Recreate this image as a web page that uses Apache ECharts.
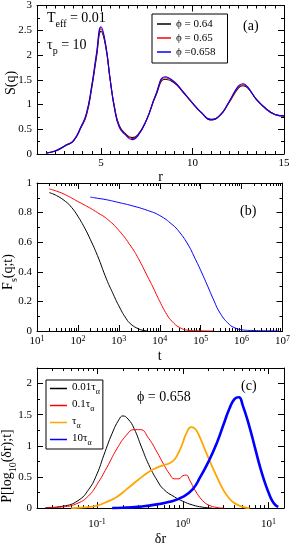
<!DOCTYPE html>
<html><head><meta charset="utf-8">
<script src="https://cdn.jsdelivr.net/npm/echarts@6/dist/echarts.min.js"></script>
<style>html,body{margin:0;padding:0;background:#fff}#c{width:293px;height:547px}</style>
</head><body><div id="c"></div>
<script>
// ---------- Panel (a): S(q) ----------
const rA = [2.0, 2.5, 3.1, 3.5, 3.9, 4.2, 4.5, 4.75, 5.0, 5.25, 5.5, 5.75, 6.0, 6.3, 6.7, 7.0, 7.5, 8.0, 8.5, 9.0, 9.5, 10.0, 10.5, 11.0, 11.5, 12.0, 12.5, 12.75, 13.0, 13.5, 14.0, 14.5, 15.0];
const sA_064 = [0.02, 0.06, 0.18, 0.27, 0.53, 0.78, 1.35, 1.95, 2.48, 2.18, 1.5, 0.92, 0.57, 0.42, 0.33, 0.38, 0.7, 1.18, 1.51, 1.44, 1.24, 1.03, 0.83, 0.7, 0.78, 1.04, 1.33, 1.38, 1.34, 1.1, 0.92, 0.8, 0.77];
const sA_065 = [0.02, 0.06, 0.18, 0.27, 0.54, 0.8, 1.38, 2.0, 2.53, 2.2, 1.5, 0.9, 0.55, 0.41, 0.31, 0.37, 0.7, 1.2, 1.54, 1.45, 1.25, 1.03, 0.83, 0.69, 0.78, 1.05, 1.35, 1.40, 1.35, 1.1, 0.92, 0.8, 0.77];
const sA_0658 = [0.02, 0.06, 0.18, 0.27, 0.55, 0.82, 1.4, 2.03, 2.57, 2.22, 1.5, 0.89, 0.54, 0.4, 0.29, 0.36, 0.7, 1.21, 1.56, 1.46, 1.25, 1.03, 0.83, 0.69, 0.78, 1.06, 1.37, 1.42, 1.36, 1.1, 0.92, 0.8, 0.77];
const legendA = ['ϕ = 0.64', 'ϕ = 0.65', 'ϕ =0.658'];
const xTicksA = [5, 10, 15];
const xMinorA = [2, 2.5, 3, 3.5, 4, 4.5, 5.5, 6, 6.5, 7, 7.5, 8, 8.5, 9, 9.5, 10.5, 11, 11.5, 12, 12.5, 13, 13.5, 14, 14.5];
const yTicksA = [0, 0.5, 1, 1.5, 2, 2.5, 3];
const yMinorA = [0.25, 0.75, 1.25, 1.75, 2.25, 2.75];

// ---------- Panel (b): Fs(q;t) ----------
const tB_064 = [20, 30, 50, 70, 100, 150, 200, 300, 500, 700, 1000, 1500, 2000, 3000, 4000, 5000];
const fB_064 = [0.935, 0.915, 0.875, 0.835, 0.775, 0.69, 0.62, 0.51, 0.35, 0.26, 0.17, 0.085, 0.045, 0.015, 0.004, 0.0];
const tB_065 = [20, 30, 50, 100, 200, 300, 500, 1000, 2000, 3000, 5000, 7000, 10000, 15000, 20000, 30000, 50000, 100000, 200000];
const fB_065 = [0.96, 0.945, 0.92, 0.875, 0.83, 0.8, 0.76, 0.68, 0.57, 0.49, 0.37, 0.29, 0.2, 0.11, 0.065, 0.025, 0.005, 0.001, 0.0];
const tB_0658 = [200, 300, 500, 1000, 2000, 5000, 10000, 20000, 30000, 50000, 70000, 100000, 150000, 200000, 300000, 500000, 700000, 1000000, 2000000, 5000000, 8000000];
const fB_0658 = [0.905, 0.897, 0.887, 0.868, 0.848, 0.815, 0.78, 0.72, 0.67, 0.58, 0.5, 0.41, 0.3, 0.22, 0.12, 0.045, 0.02, 0.008, 0.003, 0.001, 0.0];
const xDecB = [1, 2, 3, 4, 5, 6, 7];
const yTicksB = [0, 0.2, 0.4, 0.6, 0.8, 1];
const yMinorB = [0.1, 0.3, 0.5, 0.7, 0.9];

// ---------- Panel (c): P[log10(dr);t] ----------
const drC_001 = [0.025, 0.04, 0.06, 0.08, 0.1, 0.12, 0.15, 0.18, 0.2, 0.23, 0.27, 0.33, 0.4, 0.5, 0.6, 0.8, 1.0, 1.3, 1.7, 2.2];
const pC_001 = [0.005, 0.03, 0.12, 0.3, 0.55, 0.85, 1.2, 1.42, 1.48, 1.43, 1.28, 0.98, 0.7, 0.45, 0.3, 0.18, 0.11, 0.05, 0.015, 0.0];
const drC_01 = [0.025, 0.04, 0.06, 0.08, 0.1, 0.13, 0.17, 0.22, 0.27, 0.32, 0.4, 0.5, 0.6, 0.7, 0.8, 0.9, 1.0, 1.1, 1.2, 1.4, 1.7, 2.0, 2.5, 3.0];
const pC_01 = [0.005, 0.02, 0.08, 0.2, 0.38, 0.65, 0.95, 1.17, 1.26, 1.26, 1.12, 0.9, 0.7, 0.55, 0.47, 0.47, 0.52, 0.53, 0.45, 0.28, 0.12, 0.05, 0.01, 0.0];
const drC_1 = [0.05, 0.07, 0.1, 0.13, 0.17, 0.22, 0.3, 0.4, 0.5, 0.6, 0.7, 0.8, 0.9, 1.0, 1.1, 1.25, 1.4, 1.6, 1.8, 2.0, 2.5, 3.0, 3.5, 4.0, 5.0, 6.0];
const pC_1 = [0.0, 0.01, 0.04, 0.1, 0.18, 0.3, 0.45, 0.58, 0.65, 0.69, 0.72, 0.78, 0.9, 1.05, 1.2, 1.3, 1.27, 1.12, 0.95, 0.8, 0.5, 0.28, 0.15, 0.08, 0.02, 0.0];
const drC_10 = [0.15, 0.2, 0.3, 0.4, 0.5, 0.7, 1.0, 1.3, 1.6, 2.0, 2.5, 3.0, 3.5, 4.0, 4.5, 5.0, 6.0, 7.0, 8.0, 9.0, 10.0, 11.0, 12.0, 13.0];
const pC_10 = [0.0, 0.005, 0.02, 0.04, 0.06, 0.1, 0.18, 0.3, 0.5, 0.75, 1.05, 1.35, 1.6, 1.75, 1.78, 1.65, 1.3, 0.95, 0.65, 0.42, 0.25, 0.12, 0.05, 0.02];
const legendC = ['0.01τα', '0.1τα', 'τα', '10τα'];
const xDecC = [-1, 0, 1];
const xMinorC = [0.02, 0.03, 0.04, 0.05, 0.06, 0.07, 0.08, 0.09, 0.2, 0.3, 0.4, 0.5, 0.6, 0.7, 0.8, 0.9, 2, 3, 4, 5, 6, 7, 8, 9];
const yTicksC = [0, 0.5, 1, 1.5, 2];
const yMinorC = [0.25, 0.75, 1.25, 1.75];

// ---------- helpers ----------
const FF = 'Liberation Serif';
const L10 = Math.log10;
const decMinors = (lo, hi) => { const o = []; for (let d = lo; d < hi; d++) for (let k = 2; k <= 9; k++) o.push(d + L10(k)); return o; };
const xMinorB = decMinors(1, 7);

function ax(g, pos, min, max, ticks, len, labels, fmt, line, extra) {
  return {
    type: 'value', gridIndex: g, position: pos, min: min, max: max,
    axisLine: { show: line, onZero: false, lineStyle: { color: '#000', width: 1 } },
    axisTick: { show: true, inside: true, length: len, customValues: ticks, lineStyle: { color: '#000', width: 1 } },
    axisLabel: labels ? Object.assign({ show: true, customValues: labels, formatter: fmt, color: '#000', fontFamily: FF, fontSize: 11 }, extra || {}) : { show: false },
    splitLine: { show: false }, minorTick: { show: false }, silent: true
  };
}
function axesSet(g, isX, min, max, majors, minors, fmt, extra) {
  const p1 = isX ? 'bottom' : 'left', p2 = isX ? 'top' : 'right';
  return [
    ax(g, p1, min, max, majors, 6, majors, fmt, true, extra),
    ax(g, p1, min, max, minors, 3, null, null, false),
    ax(g, p2, min, max, majors, 6, null, null, true),
    ax(g, p2, min, max, minors, 3, null, null, false)
  ];
}
const numFmt = v => String(v);
const supRich = {
  b: { fontFamily: FF, fontSize: 11, lineHeight: 12, verticalAlign: 'bottom', color: '#000' },
  sup: { fontFamily: FF, fontSize: 8, lineHeight: 9, padding: [0, 0, 5, 0], verticalAlign: 'top', color: '#000' }
};
const decFmt = v => '{b|10}{sup|' + String(Math.round(v)) + '}';

const xAxes = [].concat(
  axesSet(0, true, 1.5, 15, xTicksA, xMinorA, numFmt, { margin: 4 }),
  axesSet(1, true, 1, 7, xDecB, xMinorB, decFmt, { margin: 4, rich: supRich }),
  axesSet(2, true, -1.7, 1.18, xDecC, xMinorC.map(L10), decFmt, { margin: 10, rich: supRich })
);
xAxes[0].name = 'r'; xAxes[0].nameLocation = 'middle'; xAxes[0].nameGap = 12;
xAxes[4].name = 't'; xAxes[4].nameLocation = 'middle'; xAxes[4].nameGap = 15;
xAxes[8].name = 'δr'; xAxes[8].nameLocation = 'middle'; xAxes[8].nameGap = 23;
[0, 4, 8].forEach(i => xAxes[i].nameTextStyle = { fontFamily: FF, fontSize: 14, color: '#000' });

const yAxes = [].concat(
  axesSet(0, false, 0, 3, yTicksA, yMinorA, numFmt, { margin: 5 }),
  axesSet(1, false, 0, 1, yTicksB, yMinorB, numFmt, { margin: 5 }),
  axesSet(2, false, 0, 2.25, yTicksC, yMinorC, numFmt, { margin: 5 })
);

function line(name, xi, xs, ys, color, w, tf) {
  return {
    type: 'line', name: name, xAxisIndex: xi, yAxisIndex: xi,
    data: xs.map((x, i) => [tf ? tf(x) : x, ys[i]]),
    symbol: 'none', showSymbol: false, smooth: 0.5,
    lineStyle: { color: color, width: w }, itemStyle: { color: color }, silent: true, z: 3
  };
}

const series = [
  line(legendA[0], 0, rA, sA_064, '#000000', 1.1),
  line(legendA[1], 0, rA, sA_065, '#ff0000', 1.1),
  line(legendA[2], 0, rA, sA_0658, '#0000ff', 1.1),
  line('b ' + legendA[0], 4, tB_064, fB_064, '#000000', 1, L10),
  line('b ' + legendA[1], 4, tB_065, fB_065, '#ff0000', 1, L10),
  line('b ' + legendA[2], 4, tB_0658, fB_0658, '#0000ff', 1, L10),
  line(legendC[0], 8, drC_001, pC_001, '#000000', 1, L10),
  line(legendC[1], 8, drC_01, pC_01, '#ff0000', 1, L10),
  line(legendC[2], 8, drC_1, pC_1, '#ffa500', 1.8, L10),
  line(legendC[3], 8, drC_10, pC_10, '#0000ff', 2.6, L10)
];

const txt = (x, y, rich, text, rot) => ({
  type: 'text', x: x, y: y, rotation: rot || 0, silent: true,
  style: { text: text, fill: '#000', fontFamily: FF, fontSize: 14, textAlign: rot ? 'center' : 'left', textVerticalAlign: rot ? 'middle' : 'top', rich: rich }
});
const subRich = {
  n: { fontFamily: FF, fontSize: 14, lineHeight: 16, verticalAlign: 'top', fill: '#000', color: '#000' },
  s: { fontFamily: FF, fontSize: 10, lineHeight: 10, padding: [8, 0, 0, 0], verticalAlign: 'top', fill: '#000', color: '#000' }
};

const option = {
  animation: false,
  backgroundColor: '#fff',
  grid: [
    { left: 37, top: 5, width: 247, height: 149 },
    { left: 37, top: 183, width: 247, height: 148 },
    { left: 37, top: 368, width: 247, height: 148 }
  ],
  xAxis: xAxes, yAxis: yAxes,
  legend: [
    {
      data: legendA, left: 152, top: 14, orient: 'vertical', icon: 'rect', itemWidth: 14, itemHeight: 1.5, itemGap: 2,
      padding: [4, 12, 5, 5], borderColor: '#000', borderWidth: 1, selectedMode: false,
      textStyle: { fontFamily: FF, fontSize: 11, lineHeight: 12, color: '#000' }
    },
    {
      data: legendC, left: 46, top: 380, orient: 'vertical', icon: 'rect', itemWidth: 17, itemHeight: 1.5, itemGap: 3,
      padding: [2, 3, 2, 4], borderColor: '#000', borderWidth: 1, selectedMode: false,
      formatter: n => n.replace('τα', '{n|τ}{s|α}').replace(/^([0-9.]+)/, '{n|$1}'),
      textStyle: {
        fontFamily: FF, fontSize: 11, lineHeight: 13, color: '#000',
        rich: {
          n: { fontFamily: FF, fontSize: 11, lineHeight: 13, verticalAlign: 'top', color: '#000' },
          s: { fontFamily: FF, fontSize: 8, lineHeight: 8, padding: [6, 0, 0, 0], verticalAlign: 'top', color: '#000' }
        }
      }
    }
  ],
  graphic: [
    txt(47, 11, subRich, '{n|T}{s|eff}{n| = 0.01}'),
    txt(47, 38, subRich, '{n|τ}{s|p}{n| = 10}'),
    txt(243, 19, null, '(a)'),
    txt(240, 204, null, '(b)'),
    txt(241, 379, null, '(c)'),
    txt(137, 390, null, 'ϕ = 0.658'),
    txt(11, 83, null, 'S(q)', Math.PI / 2),
    txt(9, 272, subRich, '{n|F}{s|s}{n|(q;t)}', Math.PI / 2),
    txt(8, 466, subRich, '{n|P[log}{s|10}{n|(δr);t]}', Math.PI / 2)
  ],
  series: series
};
const chart = echarts.init(document.getElementById('c'), null, { renderer: 'canvas' });
chart.setOption(option);
</script>
</body></html>
